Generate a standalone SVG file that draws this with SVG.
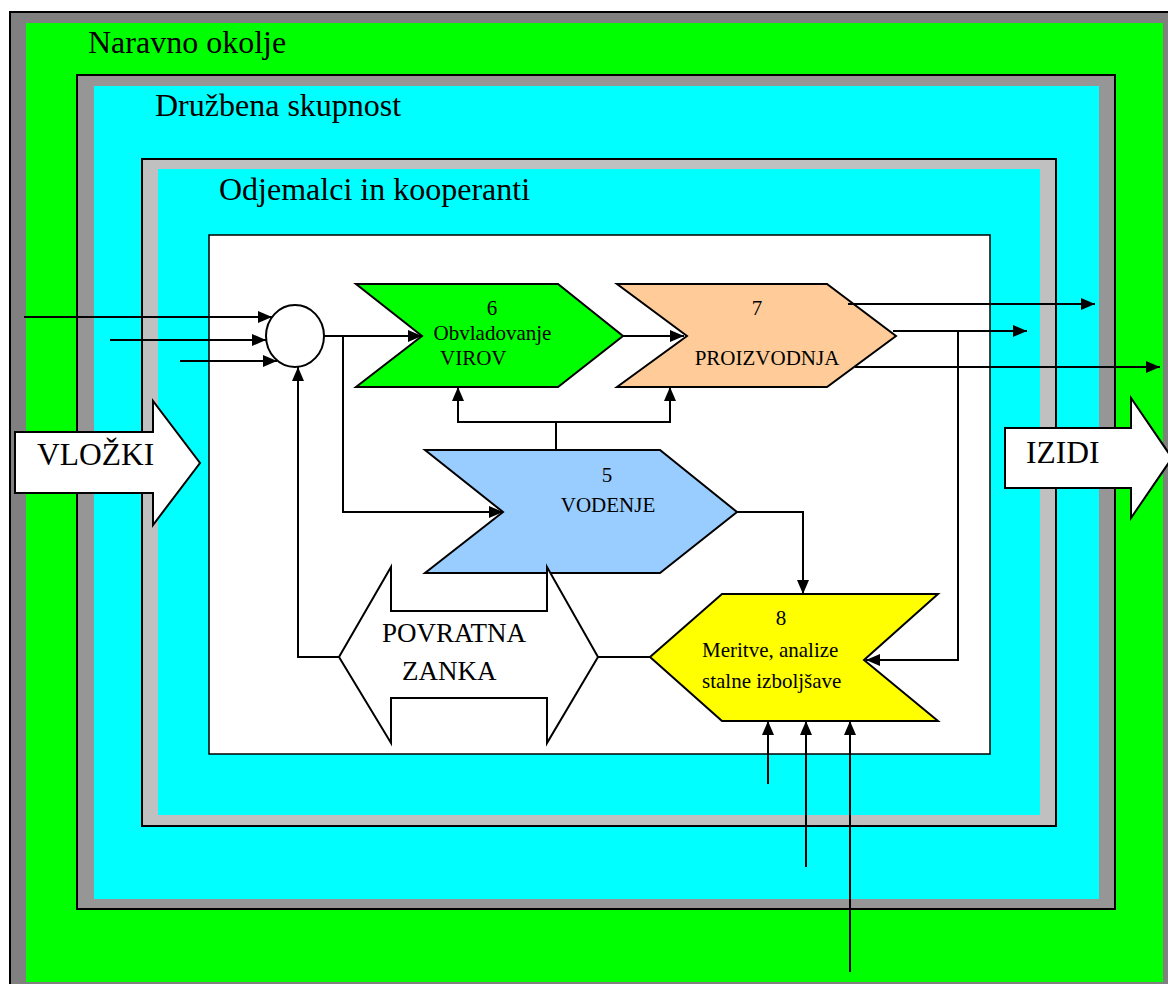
<svg xmlns="http://www.w3.org/2000/svg" width="1168" height="984" viewBox="0 0 1168 984">
<defs>
<style>
.frame{stroke:#000;stroke-width:2}
.lbl{font-family:"Liberation Serif","Times New Roman",serif;fill:#000}
.big{font-size:32px}
.arr{font-size:31.5px}
.mid{font-size:27px}
.sm{font-size:21px}
.shape{stroke:#000;stroke-width:2;stroke-linejoin:miter}
.con{fill:none;stroke:#000;stroke-width:2}
</style>
<marker id="ah" viewBox="0 0 14 12" refX="14" refY="6" markerWidth="14" markerHeight="12" markerUnits="userSpaceOnUse" orient="auto">
<path d="M0,0 L14,6 L0,12 z" fill="#000"/>
</marker>
</defs>

<g id="frame-naravno">
<rect class="frame" x="10" y="12" width="1170" height="985" fill="#808080"/>
<rect x="26" y="23" width="1137" height="959" fill="#00ff00"/>
<text class="lbl big" x="88" y="53">Naravno okolje</text>
</g>
<g id="frame-druzbena">
<rect class="frame" x="77" y="75" width="1038" height="834" fill="#969696"/>
<rect x="94" y="86" width="1005" height="813" fill="#00ffff"/>
<text class="lbl big" x="155" y="116">Družbena skupnost</text>
</g>
<g id="frame-odjemalci">
<rect class="frame" x="142" y="159" width="914" height="667" fill="#c0c0c0"/>
<rect x="158" y="169" width="882" height="646" fill="#00ffff"/>
<text class="lbl big" x="219" y="200">Odjemalci in kooperanti</text>
</g>
<g id="frame-inner">
<rect x="209" y="235" width="781" height="519" fill="#fff" stroke="#000" stroke-width="1.5"/>
</g>

<g id="node-vlozki">
<polygon class="shape" fill="#fff" points="15,432 153,432 153,401 200,463 153,525 153,493 15,493"/>
<text class="lbl arr" x="37" y="465">VLOŽKI</text>
</g>
<g id="node-izidi">
<polygon class="shape" fill="#fff" points="1005,428 1131,428 1131,398 1172,458 1131,518 1131,488 1005,488"/>
<text class="lbl arr" x="1026" y="463">IZIDI</text>
</g>

<g id="node-sum">
<ellipse class="shape" fill="#fff" cx="295" cy="336" rx="29" ry="31"/>
</g>

<g id="node-6">
<polygon class="shape" fill="#00ff00" points="356,284 558,284 623,336 558,387 356,387 422,336"/>
<text class="lbl sm" x="492" y="315" text-anchor="middle">6</text>
<text class="lbl sm" x="492.5" y="340" text-anchor="middle">Obvladovanje</text>
<text class="lbl sm" x="440" y="365">VIROV</text>
</g>

<g id="node-7">
<polygon class="shape" fill="#ffcc99" points="617,284 827,284 896,336 827,387 617,387 687,336"/>
<text class="lbl sm" x="757" y="315" text-anchor="middle">7</text>
<text class="lbl sm" x="767" y="365" text-anchor="middle">PROIZVODNJA</text>
</g>

<g id="node-5">
<polygon class="shape" fill="#99ccff" points="425,450 660,450 737,512 660,573 425,573 503,512"/>
<text class="lbl sm" x="607" y="482" text-anchor="middle">5</text>
<text class="lbl sm" x="608" y="512" text-anchor="middle">VODENJE</text>
</g>

<g id="node-povratna">
<polygon class="shape" fill="#fff" points="339,657 391,567 391,611 547,611 547,567 598,657 547,743 547,698 391,698 391,743"/>
<text class="lbl mid" x="382" y="642">POVRATNA</text>
<text class="lbl mid" x="402" y="680">ZANKA</text>
</g>

<g id="node-8">
<polygon class="shape" fill="#ffff00" points="722,594 938,594 864,660 938,721 722,721 650,657"/>
<text class="lbl sm" x="781" y="625" text-anchor="middle">8</text>
<text class="lbl sm" x="702" y="657">Meritve, analize</text>
<text class="lbl sm" x="702" y="688">stalne izboljšave</text>
</g>

<g id="connectors">
<line class="con" x1="24" y1="317" x2="272" y2="317" marker-end="url(#ah)"/>
<line class="con" x1="110" y1="340" x2="266" y2="340" marker-end="url(#ah)"/>
<line class="con" x1="180" y1="361" x2="277" y2="361" marker-end="url(#ah)"/>
<line class="con" x1="324" y1="336" x2="422" y2="336" marker-end="url(#ah)"/>
<polyline class="con" points="343,336 343,512 503,512" marker-end="url(#ah)"/>
<line class="con" x1="623" y1="336" x2="684" y2="336" marker-end="url(#ah)"/>
<line class="con" x1="848" y1="304" x2="1095" y2="304" marker-end="url(#ah)"/>
<line class="con" x1="893" y1="331" x2="1027" y2="331" marker-end="url(#ah)"/>
<line class="con" x1="855" y1="367" x2="1160" y2="367" marker-end="url(#ah)"/>
<polyline class="con" points="958,331 958,660 866,660" marker-end="url(#ah)"/>
<polyline class="con" points="737,512 803,512 803,594" marker-end="url(#ah)"/>
<line class="con" x1="556" y1="450" x2="556" y2="422"/>
<line class="con" x1="457" y1="422" x2="671" y2="422"/>
<line class="con" x1="458" y1="422" x2="458" y2="387" marker-end="url(#ah)"/>
<line class="con" x1="670" y1="422" x2="670" y2="387" marker-end="url(#ah)"/>
<polyline class="con" points="339,657 298,657 298,367" marker-end="url(#ah)"/>
<line class="con" x1="598" y1="657" x2="650" y2="657"/>
<line class="con" x1="768" y1="784" x2="768" y2="721" marker-end="url(#ah)"/>
<line class="con" x1="806" y1="867" x2="806" y2="721" marker-end="url(#ah)"/>
<line class="con" x1="850" y1="972" x2="850" y2="721" marker-end="url(#ah)"/>
</g>
</svg>
